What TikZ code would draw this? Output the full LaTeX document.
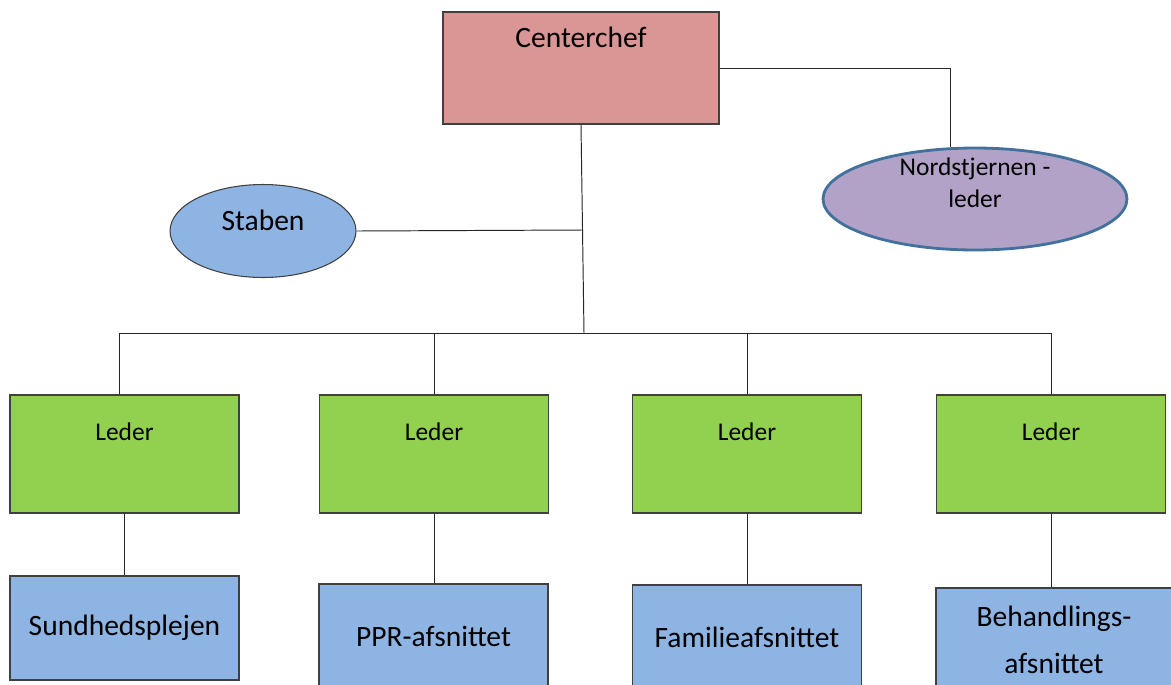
\documentclass[tikz,border=0pt]{standalone}
\usepackage{fontspec}
\setmainfont{Carlito}
\usetikzlibrary{shapes.geometric}

\definecolor{chefred}{HTML}{D99694}
\definecolor{ledergreen}{HTML}{92D050}
\definecolor{afsnitblue}{HTML}{8EB4E3}
\definecolor{nordlilla}{HTML}{B3A2C7}
\definecolor{nordrand}{HTML}{41719C}
\definecolor{randgraa}{HTML}{404040}

\newcommand{\storfont}{\fontsize{16.8}{21}\selectfont}
\newcommand{\lillefont}{\fontsize{14.5}{18}\selectfont}

\tikzset{
  chefbox/.style={draw=randgraa, fill=chefred, line width=0.7pt,
    minimum width=5.52cm, minimum height=2.24cm, inner sep=0pt},
  lederbox/.style={draw=randgraa, fill=ledergreen, line width=0.7pt,
    minimum width=4.58cm, minimum height=2.36cm, inner sep=0pt},
  afsnitbox/.style={draw=randgraa, fill=afsnitblue, line width=0.7pt,
    minimum width=4.58cm, minimum height=2.08cm, inner sep=0pt,
    align=center, font=\storfont},
  staboval/.style={ellipse, draw=randgraa, fill=afsnitblue, line width=0.6pt,
    minimum width=3.72cm, minimum height=1.86cm, inner sep=0pt},
  nordoval/.style={ellipse, draw=nordrand, fill=nordlilla, line width=1.6pt,
    minimum width=6.08cm, minimum height=2.04cm, inner sep=0pt},
  forbind/.style={draw=black!85, line width=0.55pt}
}

\begin{document}
\begin{tikzpicture}[x=0.02cm, y=-0.02cm]
  \clip (0,0) rectangle (1171,684);
  \fill[white] (0,0) rectangle (1171,684);

  % top
  \node[chefbox, label={[anchor=base, yshift=-0.72cm, font=\storfont]north:Centerchef}]
    (chef) at (581,68) {};
  \node[nordoval, label={[anchor=center, yshift=0.32cm, align=center, font=\lillefont]center:Nordstjernen -\\leder}]
    (nord) at (975,199) {};
  \node[staboval, label={[anchor=center, yshift=0.21cm, font=\storfont]center:Staben}]
    (stab) at (263,231) {};

  % ledere
  \foreach \i/\x in {1/124.5, 2/434, 3/747, 4/1051}
    \node[lederbox, label={[anchor=base, yshift=-0.92cm, font=\lillefont]north:Leder}]
      (l\i) at (\x,454) {};

  % afsnit
  \node[afsnitbox] (a1) at (124.5,628) {Sundhedsplejen};
  \node[afsnitbox] (a2) at (433.5,636) {PPR-afsnittet};
  \node[afsnitbox] (a3) at (747,637) {Familieafsnittet};
  \node[afsnitbox, minimum width=4.72cm, yshift=-0.06cm] (a4) at (1054,637)
    {Behandlings-\\[6pt]afsnittet};

  \coordinate (stabknude) at (583,230);
  \coordinate (bus) at (584,333);

  \draw[forbind] (chef.east) -| ([xshift=-0.5cm]nord.north);
  \draw[forbind] (chef.south) -- (bus);
  \draw[forbind] (stab.east) -- (stabknude);
  \draw[forbind] ([xshift=-0.11cm]l1.north |- bus) -- (l4.north |- bus);
  \draw[forbind] ([xshift=-0.11cm]l1.north |- bus) -- ([xshift=-0.11cm]l1.north);
  \foreach \i in {2,...,4}
    \draw[forbind] (l\i.north |- bus) -- (l\i.north);
  \foreach \i in {1,...,4}
    \draw[forbind] (l\i.south) -- (l\i.south |- a\i.north);
\end{tikzpicture}
\end{document}
